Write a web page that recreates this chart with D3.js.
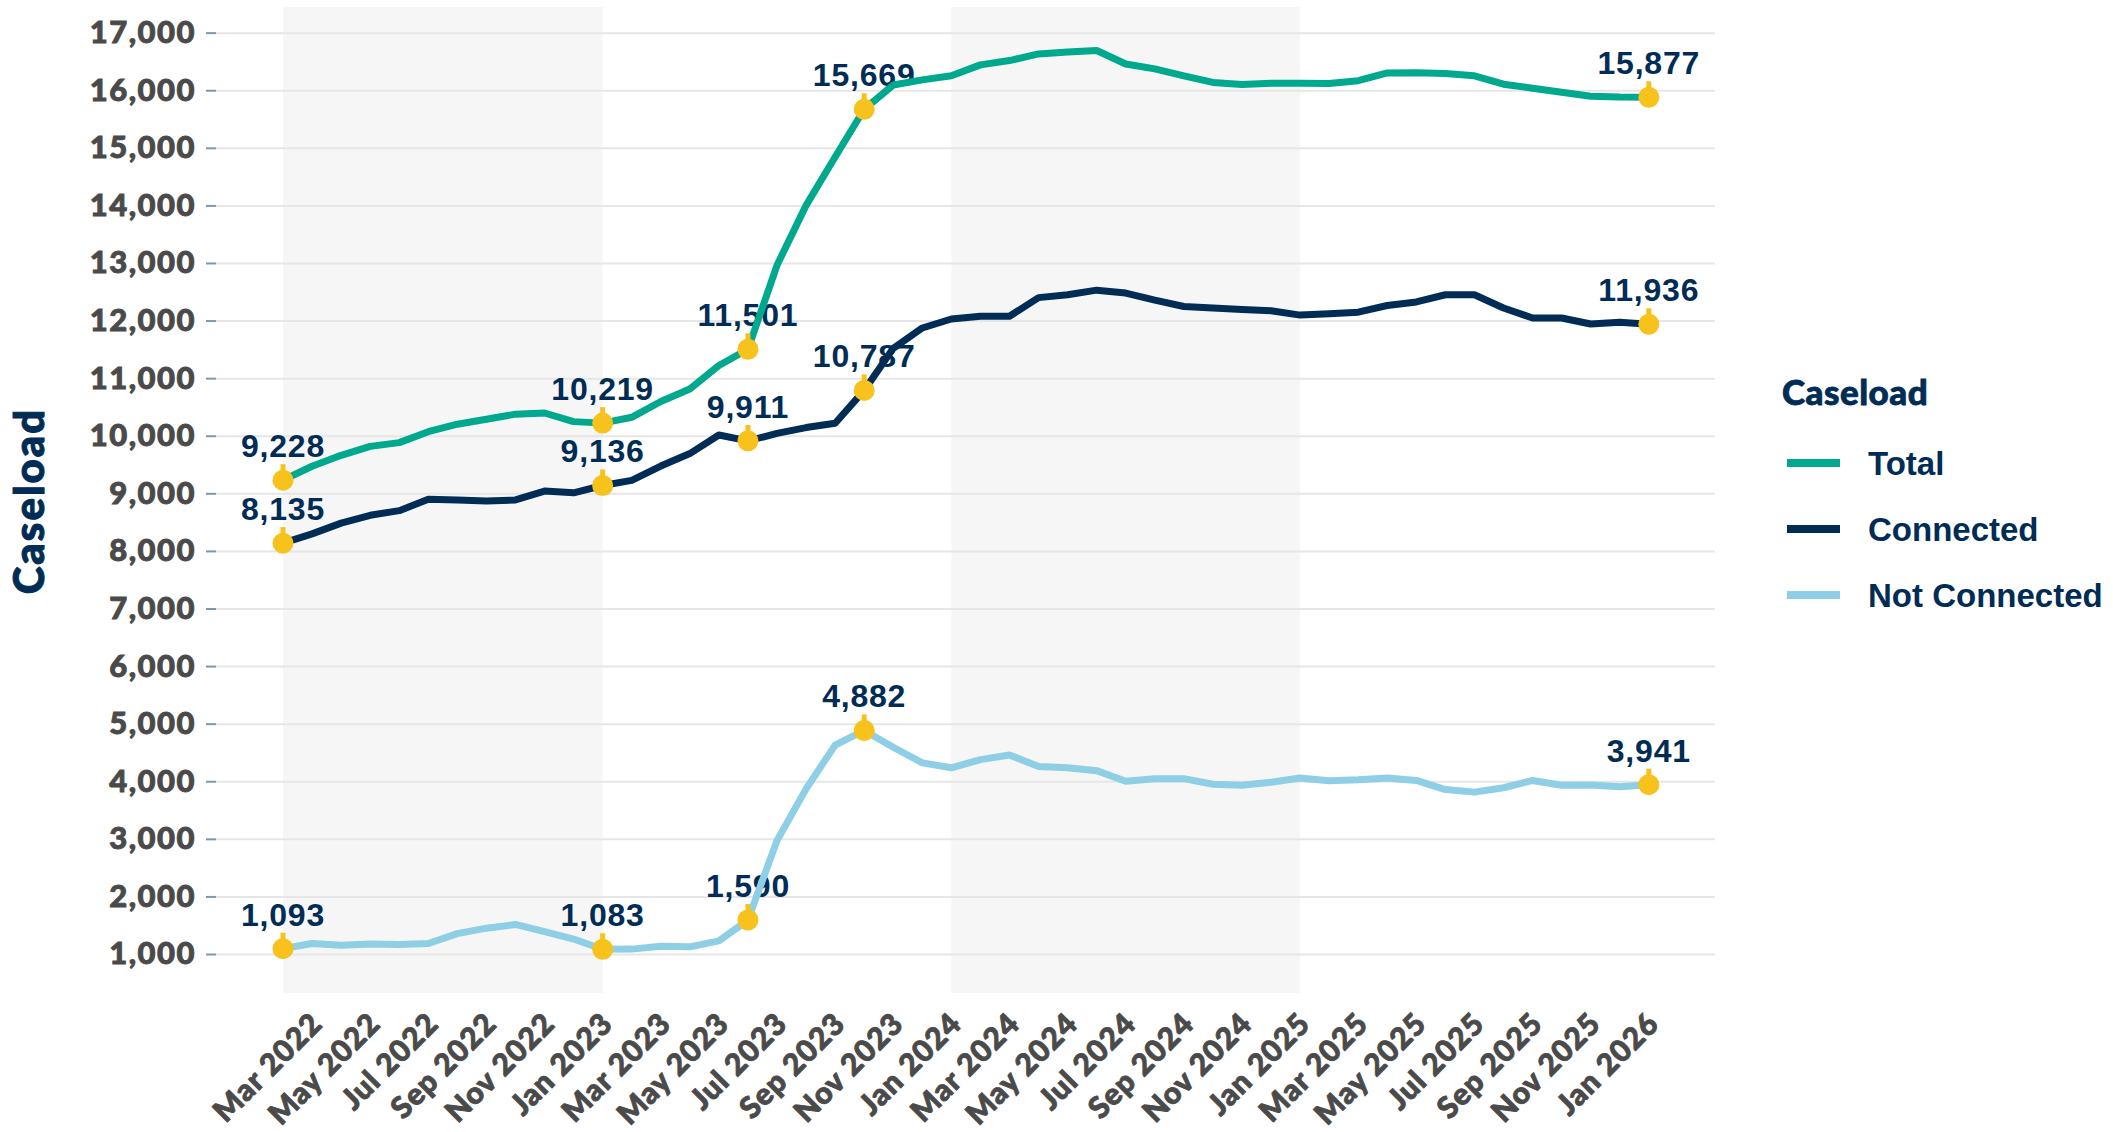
<!DOCTYPE html>
<html lang="en">
  <head>
    <meta charset="utf-8">
    <title>Caseload</title>
    <script src="https://cdn.jsdelivr.net/npm/d3@7"></script>
    <style>
      body { margin: 0; background: #fff; }
      svg { display: block; }
    </style>
  </head>
  <body>
    <svg id="chart" width="2113" height="1132"></svg>
  </body>
  <script type="text/javascript">

    // monthly caseload, Feb 2022 .. Jan 2026
    var months = d3.timeMonth.range(new Date(2022, 1, 1), new Date(2026, 1, 1));

    var total = [9228, 9470, 9660, 9815, 9880, 10070, 10200, 10285, 10375, 10395, 10245, 10219,
                 10320, 10595, 10810, 11220, 11501, 12960, 14000, 14840, 15669, 16090, 16180, 16250,
                 16440, 16515, 16630, 16665, 16690, 16455, 16370, 16250, 16135, 16100, 16120, 16120,
                 16115, 16165, 16300, 16305, 16290, 16250, 16105, 16035, 15965, 15895, 15880, 15877];

    var connected = [8135, 8296, 8482, 8618, 8699, 8897, 8885, 8867, 8885, 9039, 9008, 9136,
                     9225, 9473, 9690, 10012, 9911, 10040, 10142, 10217, 10787, 11518, 11871, 12027,
                     12076, 12076, 12398, 12448, 12528, 12478, 12355, 12244, 12218, 12194, 12169, 12095,
                     12120, 12145, 12261, 12324, 12448, 12448, 12218, 12044, 12044, 11940, 11970, 11936];

    var notConnected = [1093, 1183, 1152, 1176, 1164, 1183, 1354, 1449, 1513, 1387, 1260, 1083,
                        1085, 1134, 1125, 1227, 1590, 2969, 3868, 4628, 4882, 4590, 4320, 4234,
                        4375, 4456, 4255, 4234, 4184, 4000, 4045, 4045, 3949, 3930, 3982, 4057,
                        4007, 4026, 4057, 4014, 3856, 3811, 3887, 4014, 3930, 3935, 3906, 3941];

    // months that get a marker + value label
    var markIdx = [0, 11, 16, 20, 47];

    // shaded year bands (first month, last month)
    var bands = [[new Date(2022, 1, 1), new Date(2023, 0, 1)],
                 [new Date(2024, 0, 1), new Date(2025, 0, 1)]];

    var yTicks = d3.range(1000, 17001, 1000);
    var xTicks = months.filter(function(d, i) { return i % 2 == 1; });

    var series = [
      {name: 'Total', values: total, color: '#00A88E'},
      {name: 'Connected', values: connected, color: '#002C55'},
      {name: 'Not Connected', values: notConnected, color: '#8ECFE5'}
    ];

    var navy = '#002C55';
    var grey = '#4A4A4A';
    var gridLeft = 216, gridRight = 1715;
    var plotTop = 7, plotBottom = 993;

    var svg = d3.select('#chart');

    var x = d3.scalePoint().domain(months.map(function(d) { return +d; })).range([283, 1648.8]);
    var y = d3.scaleLinear().domain([323, 17445]).range([plotBottom, plotTop]);

    // year bands
    svg.append('g').selectAll('rect').data(bands).enter().append('rect')
      .attr('x', function(d) { return x(+d[0]); })
      .attr('width', function(d) { return x(+d[1]) - x(+d[0]); })
      .attr('y', plotTop)
      .attr('height', plotBottom - plotTop)
      .attr('fill', '#F6F6F6');

    // gridlines
    var grid = svg.append('g').attr('transform', 'translate(' + gridLeft + ',0)')
      .call(d3.axisLeft(y).tickValues(yTicks).tickSize(-(gridRight - gridLeft)).tickFormat(''));
    grid.select('.domain').remove();
    grid.selectAll('line').attr('stroke', '#E6E6E6').attr('stroke-width', 2);

    // y axis
    var yAxis = svg.append('g').attr('transform', 'translate(' + gridLeft + ',0)')
      .call(d3.axisLeft(y).tickValues(yTicks).tickSize(10).tickPadding(10).tickFormat(d3.format(',')));
    yAxis.select('.domain').remove();
    yAxis.selectAll('line').attr('stroke', '#7F95AD').attr('stroke-width', 2);
    yAxis.selectAll('text')
      .attr('fill', grey)
      .attr('stroke', grey)
      .attr('stroke-width', 0.9)
      .style('font-family', 'Lato, "Open Sans", sans-serif')
      .style('font-weight', 900)
      .style('font-size', '31px')
      .style('letter-spacing', '1.5px');

    // x axis
    var xAxis = svg.append('g').attr('transform', 'translate(0,1000)')
      .call(d3.axisBottom(x).tickValues(xTicks.map(function(d) { return +d; }))
        .tickSize(0).tickFormat(function(d) { return d3.timeFormat('%b %Y')(new Date(d)); }));
    xAxis.select('.domain').remove();
    xAxis.selectAll('text')
      .attr('x', 0).attr('y', 0).attr('dy', '0.35em')
      .attr('text-anchor', 'end')
      .attr('transform', 'translate(4,18) rotate(-45)')
      .attr('fill', grey)
      .attr('stroke', grey)
      .attr('stroke-width', 0.9)
      .style('font-family', 'Lato, "Open Sans", sans-serif')
      .style('font-weight', 900)
      .style('font-size', '30px')
      .style('letter-spacing', '1px');

    // axis title
    svg.append('text')
      .attr('transform', 'translate(44,501) rotate(-90)')
      .attr('text-anchor', 'middle')
      .attr('fill', navy)
      .attr('stroke', navy)
      .attr('stroke-width', 1)
      .style('font-family', 'Lato, sans-serif')
      .style('font-weight', 900)
      .style('font-size', '42px')
      .style('letter-spacing', '2px')
      .text('Caseload');

    // value labels (under the lines)
    var labels = svg.append('g');
    series.forEach(function(s) {
      labels.selectAll(null).data(markIdx).enter().append('text')
        .attr('x', function(i) { return x(+months[i]); })
        .attr('y', function(i) { return y(s.values[i]) - 23; })
        .attr('text-anchor', 'middle')
        .attr('fill', navy)
        .style('font-family', '"Liberation Sans", Arial, sans-serif')
        .style('font-weight', 700)
        .style('font-size', '32px')
        .style('letter-spacing', '0.8px')
        .text(function(i) { return d3.format(',')(s.values[i]); });
    });

    // lines
    var line = d3.line()
      .x(function(d, i) { return x(+months[i]); })
      .y(function(d) { return y(d); });

    svg.append('g').selectAll('path').data(series.slice().reverse()).enter().append('path')
      .attr('d', function(d) { return line(d.values); })
      .attr('fill', 'none')
      .attr('stroke', function(d) { return d.color; })
      .attr('stroke-width', 7)
      .attr('stroke-linejoin', 'round');

    // markers: dot with a little stem on top
    var marks = svg.append('g');
    series.forEach(function(s) {
      var g = marks.selectAll(null).data(markIdx).enter().append('g')
        .attr('transform', function(i) { return 'translate(' + x(+months[i]) + ',' + y(s.values[i]) + ')'; });
      g.append('rect').attr('x', -2.5).attr('y', -16).attr('width', 5).attr('height', 8).attr('fill', '#F6C21B');
      g.append('circle').attr('r', 10.5).attr('fill', '#F6C21B');
    });

    // legend
    var legend = svg.append('g');
    legend.append('text')
      .attr('x', 1782).attr('y', 405)
      .attr('fill', navy)
      .attr('stroke', navy)
      .attr('stroke-width', 0.8)
      .style('font-family', 'Lato, sans-serif')
      .style('font-weight', 900)
      .style('font-size', '35px')
      .style('letter-spacing', '0.5px')
      .text('Caseload');

    var item = legend.selectAll('g.item').data(series).enter().append('g')
      .attr('class', 'item')
      .attr('transform', function(d, i) { return 'translate(0,' + (463 + i * 66) + ')'; });
    item.append('line')
      .attr('x1', 1787).attr('x2', 1840)
      .attr('stroke', function(d) { return d.color; })
      .attr('stroke-width', 8);
    item.append('text')
      .attr('x', 1868).attr('y', 12)
      .attr('fill', navy)
      .style('font-family', '"Liberation Sans", Arial, sans-serif')
      .style('font-weight', 700)
      .style('font-size', '33px')
      .text(function(d) { return d.name; });

  </script>
</html>
